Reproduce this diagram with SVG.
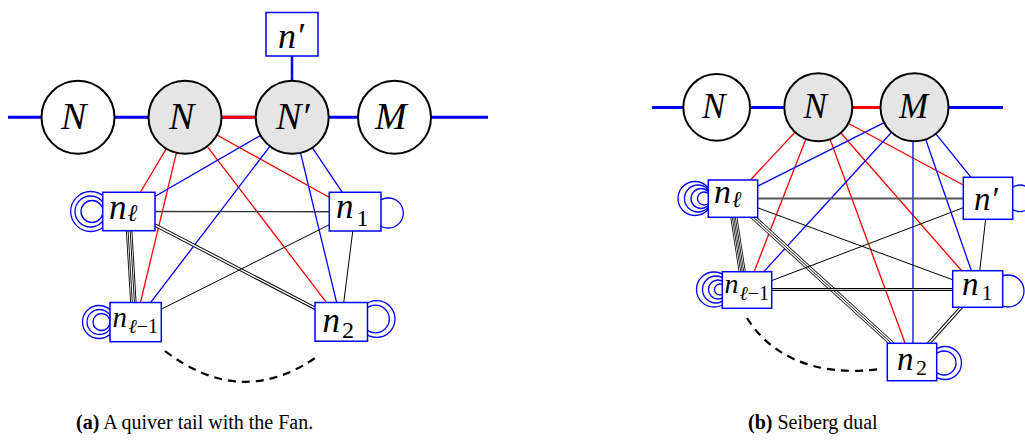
<svg xmlns="http://www.w3.org/2000/svg" width="1025" height="441" viewBox="0 0 1025 441">
<style>
.c{fill:#fff;stroke:#000;stroke-width:2}
.cg{fill:#e5e5e5;stroke:#000;stroke-width:2}
.bx{fill:#fff;stroke:#00f;stroke-width:1.5}
.lp{fill:none;stroke:#00f;stroke-width:1.3}
.r{stroke:#f00;stroke-width:1.3;fill:none}
.u{stroke:#00f;stroke-width:1.3;fill:none}
.hb{stroke:#00f;stroke-width:3;fill:none}
.hr{stroke:#f00;stroke-width:3;fill:none}
.k{stroke:#000;stroke-width:1;fill:none}
.kb{stroke:#000;fill:none}
.kw{stroke:#fff;fill:none}
.dash{stroke:#000;stroke-width:2.2;fill:none;stroke-dasharray:8 6}
.t{font-family:"Liberation Serif","DejaVu Serif",serif;font-style:italic;fill:#000}
.up{font-style:normal}
.cap{font-family:"Liberation Serif","DejaVu Serif",serif;font-size:20px;fill:#000}
</style>

<g id="connectors">
  <line class="hb" x1="8" y1="117.3" x2="488" y2="117.3"/>
  <line class="hr" x1="185" y1="117.3" x2="292" y2="117.3"/>
  <line class="hb" x1="292" y1="56" x2="292" y2="82" style="stroke-width:2.5"/>
  <line class="r" x1="185" y1="117.3" x2="128.9" y2="211.5"/>
  <line class="r" x1="185" y1="117.3" x2="135.7" y2="322.1"/>
  <line class="r" x1="185" y1="117.3" x2="341.3" y2="321.9"/>
  <line class="r" x1="185" y1="117.3" x2="355.2" y2="211.7"/>
  <line class="u" x1="292" y1="117.3" x2="128.9" y2="211.5"/>
  <line class="u" x1="292" y1="117.3" x2="135.7" y2="322.1"/>
  <line class="u" x1="292" y1="117.3" x2="341.3" y2="321.9"/>
  <line class="u" x1="292" y1="117.3" x2="355.2" y2="211.7"/>
  <line class="kb" style="stroke-width:1.4;stroke:#333" x1="128.9" y1="211.5" x2="355.2" y2="211.7"/>
  <line class="kb" style="stroke-width:3.4" x1="128.9" y1="211.5" x2="341.3" y2="321.9"/>
  <line class="kw" style="stroke-width:1.5" x1="128.9" y1="211.5" x2="341.3" y2="321.9"/>
  <line class="kb" style="stroke-width:6.4" x1="128" y1="211.5" x2="134.5" y2="322.1"/>
  <line class="kw" style="stroke-width:4.6" x1="128" y1="211.5" x2="134.5" y2="322.1"/>
  <line class="kb" style="stroke-width:3" x1="128" y1="211.5" x2="134.5" y2="322.1"/>
  <line class="kw" style="stroke-width:1.2" x1="128" y1="211.5" x2="134.5" y2="322.1"/>
  <line class="k" x1="355.2" y1="211.7" x2="135.7" y2="322.1"/>
  <line class="k" x1="355.2" y1="211.7" x2="341.3" y2="321.9"/>
  <path class="dash" d="M165 351 Q242 410 318 356"/>

  <line class="hb" x1="652" y1="107.5" x2="1003" y2="107.5"/>
  <line class="hr" x1="818.3" y1="107.5" x2="914.5" y2="107.5"/>
  <line class="r" x1="818.3" y1="107.3" x2="733" y2="198.7"/>
  <line class="r" x1="818.3" y1="107.3" x2="747" y2="290"/>
  <line class="r" x1="818.3" y1="107.3" x2="912" y2="362"/>
  <line class="r" x1="818.3" y1="107.3" x2="977.7" y2="289"/>
  <line class="r" x1="818.3" y1="107.3" x2="988" y2="198.3"/>
  <line class="u" x1="914.5" y1="107.3" x2="733" y2="198.7"/>
  <line class="u" x1="914.5" y1="107.3" x2="747" y2="290"/>
  <line class="u" x1="913" y1="107.3" x2="913" y2="362"/>
  <line class="u" x1="914.5" y1="107.3" x2="977.7" y2="289"/>
  <line class="u" x1="914.5" y1="107.3" x2="988" y2="198.3"/>
  <line class="kb" style="stroke-width:2;stroke:#555" x1="733" y1="198.5" x2="988" y2="198.5"/>
  <line class="k" x1="733" y1="198.7" x2="977.7" y2="289"/>
  <line class="kb" style="stroke-width:7" x1="731" y1="198.7" x2="745" y2="290"/>
  <line class="kw" style="stroke-width:5.4" x1="731" y1="198.7" x2="745" y2="290"/>
  <line class="kb" style="stroke-width:3.8" x1="731" y1="198.7" x2="745" y2="290"/>
  <line class="kw" style="stroke-width:2.2" x1="731" y1="198.7" x2="745" y2="290"/>
  <line class="kb" style="stroke-width:0.8" x1="731" y1="198.7" x2="745" y2="290"/>
  <line class="kb" style="stroke-width:5" x1="733" y1="198.7" x2="912" y2="362"/>
  <line class="kw" style="stroke-width:3.4" x1="733" y1="198.7" x2="912" y2="362"/>
  <line class="kb" style="stroke-width:0.9" x1="733" y1="198.7" x2="912" y2="362"/>
  <line class="k" x1="747" y1="290" x2="988" y2="198.3"/>
  <line class="kb" style="stroke-width:2.8" x1="747" y1="289.5" x2="977.7" y2="289.5"/>
  <line class="kw" style="stroke-width:0.8" x1="747" y1="289.5" x2="977.7" y2="289.5"/>
  <line class="k" x1="988" y1="198.3" x2="977.7" y2="289"/>
  <line class="kb" style="stroke-width:3.4" x1="977.7" y1="289" x2="912" y2="362"/>
  <line class="kw" style="stroke-width:1.5" x1="977.7" y1="289" x2="912" y2="362"/>
  <path class="dash" d="M747 318 C768 352 810 378 880 369"/>
</g>

<!-- LEFT NODES -->
<g id="L_N1"><circle class="c" cx="78" cy="117.3" r="36.5"/><text class="t" x="61" y="128.5" font-size="38">N</text></g>
<g id="L_N2"><circle class="cg" cx="185" cy="117.3" r="36.5"/><text class="t" x="169" y="128.5" font-size="38">N</text></g>
<g id="L_Np"><circle class="cg" cx="292.2" cy="117.3" r="36.5"/><text class="t" x="276" y="128.5" font-size="38">N′</text></g>
<g id="L_M"><circle class="c" cx="394.5" cy="117.3" r="36.5"/><text class="t" x="375" y="128.5" font-size="38">M</text></g>
<g id="L_np"><rect class="bx" x="266" y="12.5" width="52" height="43.5"/><text class="t" x="278" y="48.3" font-size="36">n′</text></g>
<g id="L_nl">
  <circle class="lp" cx="90.7" cy="211.5" r="20"/><circle class="lp" cx="90.5" cy="211.5" r="15.5"/><circle class="lp" cx="92" cy="211.5" r="11"/>
  <rect class="bx" x="102.7" y="192.3" width="52.3" height="38.4"/>
  <text class="t" x="109" y="218.5" font-size="35">n<tspan x="127.5" y="221" font-size="24">ℓ</tspan></text>
</g>
<g id="L_n1">
  <circle class="lp" cx="388.3" cy="213" r="15"/>
  <rect class="bx" x="329.3" y="192.3" width="51.7" height="38.7"/>
  <text class="t" x="336" y="218.3" font-size="35">n<tspan class="up" x="356.5" y="225.7" font-size="24">1</tspan></text>
</g>
<g id="L_nl1">
  <circle class="lp" cx="99" cy="322" r="16.5"/><circle class="lp" cx="99.5" cy="322" r="12.5"/><circle class="lp" cx="101.5" cy="322" r="8.5"/>
  <rect class="bx" x="110" y="302.5" width="51.3" height="39.2"/>
  <text class="t" x="112.5" y="326.7" font-size="29">n<tspan x="128.5" y="332.7" font-size="20">ℓ<tspan class="up">−1</tspan></tspan></text>
</g>
<g id="L_n2">
  <circle class="lp" cx="376.7" cy="319" r="18.3"/><circle class="lp" cx="375.5" cy="319" r="13.8"/>
  <rect class="bx" x="315" y="302.5" width="52.5" height="38.7"/>
  <text class="t" x="322.5" y="331.7" font-size="35">n<tspan class="up" x="342" y="338.3" font-size="24">2</tspan></text>
</g>

<!-- RIGHT NODES -->
<g id="R_N1"><circle class="c" cx="716.7" cy="107.3" r="33.4"/><text class="t" x="702" y="118.3" font-size="35">N</text></g>
<g id="R_N2"><circle class="cg" cx="818.3" cy="107.3" r="34"/><text class="t" x="803.5" y="118.3" font-size="35">N</text></g>
<g id="R_M"><circle class="cg" cx="914.5" cy="107.3" r="34"/><text class="t" x="899" y="118.3" font-size="35">M</text></g>
<g id="R_nl">
  <circle class="lp" cx="695" cy="198.5" r="17"/><circle class="lp" cx="698" cy="198.5" r="13.5"/><circle class="lp" cx="701" cy="198.5" r="10"/><circle class="lp" cx="704" cy="198.5" r="6.5"/>
  <rect class="bx" x="708.3" y="180" width="49.4" height="37.3"/>
  <text class="t" x="714" y="203.3" font-size="34">n<tspan x="732" y="206.5" font-size="23">ℓ</tspan></text>
</g>
<g id="R_np">
  <circle class="lp" cx="1020" cy="198.3" r="13.3"/>
  <rect class="bx" x="963.3" y="177.3" width="49.4" height="42"/>
  <text class="t" x="974" y="210" font-size="33">n′</text>
</g>
<g id="R_nl1">
  <circle class="lp" cx="714" cy="289.5" r="17.5"/><circle class="lp" cx="716" cy="289.5" r="13.5"/><circle class="lp" cx="718" cy="289.5" r="9.5"/><circle class="lp" cx="720" cy="289.5" r="5.5"/>
  <rect class="bx" x="722.3" y="271.7" width="49.4" height="36.6"/>
  <text class="t" x="724.5" y="293.3" font-size="28">n<tspan x="739.5" y="300" font-size="20">ℓ<tspan class="up">−1</tspan></tspan></text>
</g>
<g id="R_n1">
  <circle class="lp" cx="1008" cy="291" r="16"/>
  <rect class="bx" x="952.7" y="270.7" width="50" height="36.6"/>
  <text class="t" x="962" y="295" font-size="33">n<tspan class="up" x="981.5" y="300" font-size="22">1</tspan></text>
</g>
<g id="R_n2">
  <circle class="lp" cx="945" cy="363" r="16.5"/><circle class="lp" cx="944" cy="363" r="12"/>
  <rect class="bx" x="887.3" y="343.3" width="49.4" height="37.4"/>
  <text class="t" x="897" y="370" font-size="33">n<tspan class="up" x="916" y="375" font-size="22">2</tspan></text>
</g>

<g id="captions">
  <text class="cap" x="76" y="429"><tspan font-weight="bold">(a)</tspan> A quiver tail with the Fan.</text>
  <text class="cap" x="748" y="429"><tspan font-weight="bold">(b)</tspan> Seiberg dual</text>
</g>
</svg>
